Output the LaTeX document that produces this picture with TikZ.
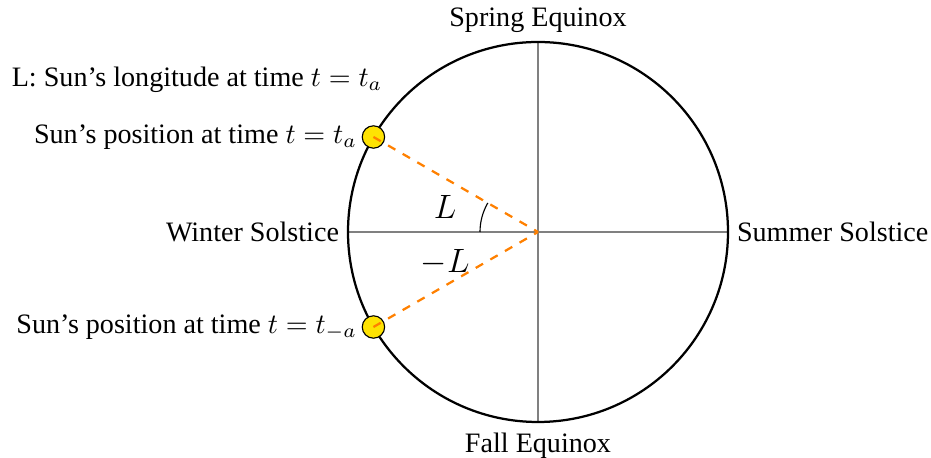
\documentclass[tikz,border=0pt]{standalone}
\usepackage{amsmath,amssymb}
\usepackage{fontspec}
\setmainfont{Liberation Serif}
\usetikzlibrary{
	arrows.meta,
	positioning,
	calc
}

\begin{document}
\begin{tikzpicture}[
		orbit/.style={draw, thick},
		axis/.style={draw=gray, line width=0.5pt},
		sun/.style={draw, circle, fill=yellow!85!orange, minimum size=0.28cm, inner sep=0pt},
		ray/.style={dashed, thick, color=orange},
		lbl/.style={inner sep=3pt}
		]
		\useasboundingbox (-6.725,-2.825) rectangle (4.9125,2.9);
		
		% Orbit and axes
		\coordinate (O) at (0,0);
		\coordinate (N) at (90:2.375);
		\coordinate (S) at (270:2.375);
		\coordinate (W) at (180:2.375);
		\coordinate (E) at (0:2.375);
		\draw[axis] (W) -- (E);
		\draw[axis] (S) -- (N);
		\draw[orbit] (O) circle (2.375);
		
		% Seasons
		\node[lbl, above=0pt of N] (spring) {Spring Equinox};
		\node[lbl, below=0.03cm of S] (fall) {Fall Equinox};
		\node[lbl, left=0pt of W] (winter) {Winter Solstice};
		\node[lbl, right=0pt of E] (summer) {Summer Solstice};
		
		% Sun positions
		\node[sun] (suna) at (150:2.375) {};
		\node[sun] (sunb) at (210:2.375) {};
		\draw[ray] (suna.center) -- (O);
		\draw[ray] (sunb.center) -- (O);
		\node[lbl, left=-1.5pt of suna] (posa) {Sun's position at time $t=t_a$};
		\node[lbl, left=-1.5pt of sunb] (posb) {Sun's position at time $t=t_{-a}$};
		\node[lbl, anchor=west] (legend) at (-6.69,1.9) {L: Sun's longitude at time $t=t_a$};
		
		% Angle
		\draw (180:0.725) arc (180:150:0.725);
		\node (angA) at (-1.16,0.31) {\large $L$};
		\node (angB) at (-1.16,-0.375) {\large $-L$};
		
	\end{tikzpicture}
\end{document}
